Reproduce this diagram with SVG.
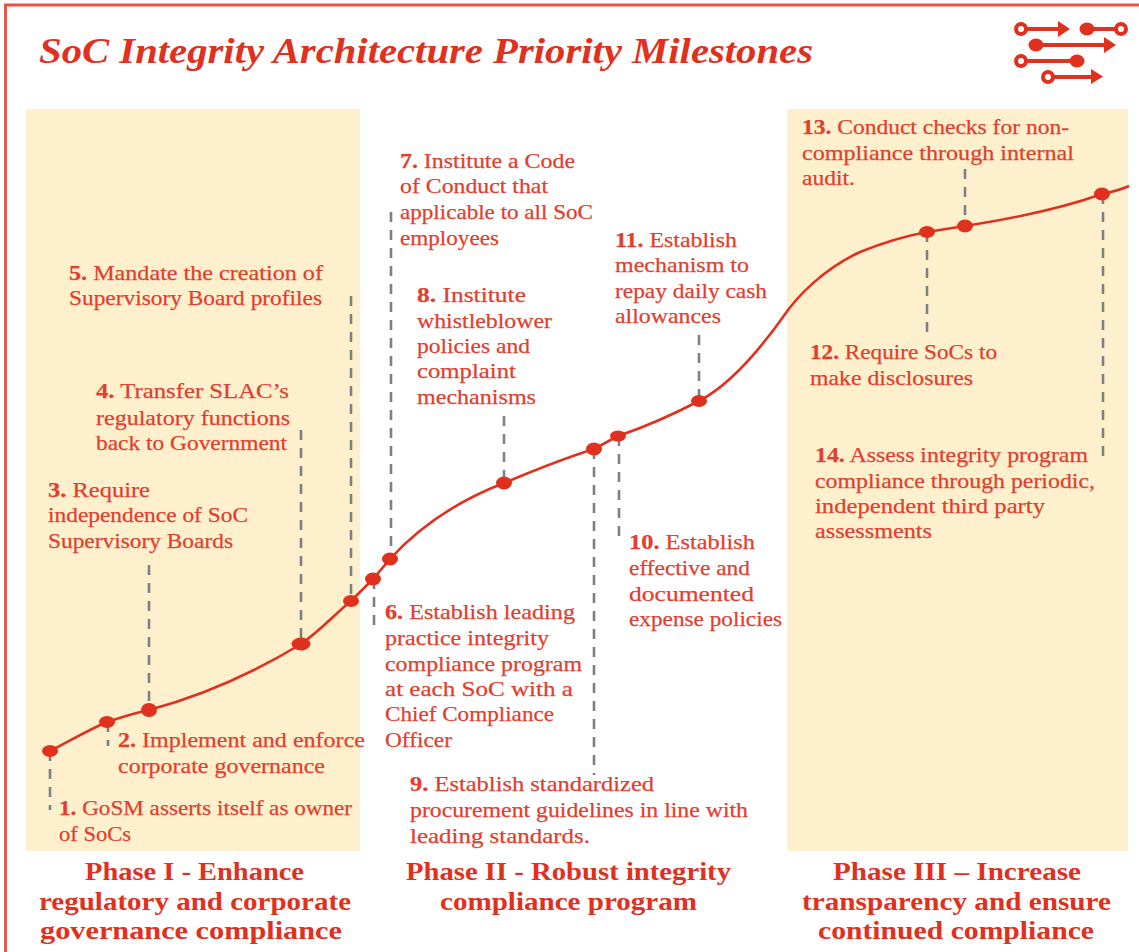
<svg xmlns="http://www.w3.org/2000/svg" width="1139" height="952" viewBox="0 0 1139 952">
<style>
text{font-family:"Liberation Serif",serif;font-size:21.5px;fill:#e0402f;stroke:#e0402f;stroke-width:.25px}
text tspan.n{font-weight:bold}
.ph{font-size:25.5px;font-weight:bold;stroke:none;fill:#e0301e}
.title{font-size:35px;font-weight:bold;font-style:italic;stroke:none;fill:#e0301e}
.lead{stroke:#7d8085;stroke-width:2.600;stroke-dasharray:10 8;fill:none}
.curve{stroke:#e0301e;stroke-width:2.600;fill:none}
.dot{fill:#e0301e}
.band{fill:#feefcd}
.ic{stroke:#e0301e;stroke-width:4;fill:none}
.icf{fill:#e0301e}
.ring{fill:#fff;stroke:#e0301e;stroke-width:4}
</style>
<g id="frame"><path d="M1139 5H5.500V952" fill="none" stroke="#e8503f" stroke-width="2.800"/></g>
<g id="bands">
<rect class="band" x="26" y="109" width="334" height="742"/>
<rect class="band" x="787" y="109" width="341" height="742"/>
</g>
<g id="title"><text class="title" x="39" y="63" textLength="774" lengthAdjust="spacingAndGlyphs">SoC Integrity Architecture Priority Milestones</text></g>
<g id="icon">
<path class="ic" d="M1021 29H1062M1088 29H1121M1036 45H1108M1021 61H1077M1048 77H1095"/>
<path class="icf" d="M1058 21L1070 29L1058 37ZM1104 37L1116 45L1104 53ZM1091 69L1103 76.500L1091 84Z"/>
<ellipse class="icf" cx="1087" cy="29" rx="7.500" ry="6.500"/><ellipse class="icf" cx="1036" cy="45" rx="7.500" ry="6.500"/><ellipse class="icf" cx="1077" cy="61" rx="7.500" ry="6.500"/>
<circle class="ring" cx="1021" cy="29" r="5"/><circle class="ring" cx="1121" cy="29" r="5"/><circle class="ring" cx="1021" cy="61" r="5"/><circle class="ring" cx="1048" cy="77" r="5"/>
</g>
<g id="connectors">
<path class="curve" d="M50 751C70 741 88 730 107 722C122 717 135 713 149 710C205 695 255 672 301 644C320 631 335 614 351 601L373 579L390 559C420 526 460 500 504 483C535 470 565 458 594 449L618 436C645 427 672 415 699 401C730 385 758 352 783 317C797 296 825 268 860 252C885 242 905 236 927 232L965 226C1010 219 1060 209 1102 194C1112 192 1120 190 1129 186"/>
<path class="lead" d="M50 751V810M108 722V746M149 565V710M301 430V644M351 296V601M374 579V628M391 212V559M504 416V483M594 449V775M619 436V543M699 335V401M927 232V339M965 169V226M1103 194V462"/>
<g class="dot">
<ellipse cx="50" cy="751" rx="8" ry="6"/><ellipse cx="107" cy="722" rx="8" ry="6"/><ellipse cx="149" cy="710" rx="8" ry="7"/><ellipse cx="301" cy="644" rx="9.500" ry="6.500"/><ellipse cx="351" cy="601" rx="8" ry="6"/><ellipse cx="373" cy="579" rx="8" ry="6.500"/><ellipse cx="390" cy="559" rx="8" ry="6.500"/><ellipse cx="504" cy="483" rx="8" ry="6.500"/><ellipse cx="594" cy="449" rx="8" ry="6.500"/><ellipse cx="618" cy="436" rx="8" ry="5.500"/><ellipse cx="699" cy="401" rx="8" ry="6"/><ellipse cx="927" cy="232" rx="8" ry="6"/><ellipse cx="965" cy="226" rx="8" ry="6.500"/><ellipse cx="1102" cy="194" rx="8" ry="6.500"/>
</g>
</g>
<g id="m1"><text x="59" y="815" textLength="293" lengthAdjust="spacingAndGlyphs"><tspan class="n">1.</tspan> GoSM asserts itself as owner</text><text x="59" y="841" textLength="72" lengthAdjust="spacingAndGlyphs">of SoCs</text></g>
<g id="m2"><text x="118" y="747" textLength="247" lengthAdjust="spacingAndGlyphs"><tspan class="n">2.</tspan> Implement and enforce</text><text x="118" y="773" textLength="207" lengthAdjust="spacingAndGlyphs">corporate governance</text></g>
<g id="m3"><text x="48" y="497" textLength="102" lengthAdjust="spacingAndGlyphs"><tspan class="n">3.</tspan> Require</text><text x="48" y="522" textLength="200" lengthAdjust="spacingAndGlyphs">independence of SoC</text><text x="48" y="548" textLength="185" lengthAdjust="spacingAndGlyphs">Supervisory Boards</text></g>
<g id="m4"><text x="96" y="398" textLength="193" lengthAdjust="spacingAndGlyphs"><tspan class="n">4.</tspan> Transfer SLAC’s</text><text x="96" y="425" textLength="194" lengthAdjust="spacingAndGlyphs">regulatory functions</text><text x="96" y="450" textLength="191" lengthAdjust="spacingAndGlyphs">back to Government</text></g>
<g id="m5"><text x="69" y="280" textLength="254" lengthAdjust="spacingAndGlyphs"><tspan class="n">5.</tspan> Mandate the creation of</text><text x="69" y="305" textLength="253" lengthAdjust="spacingAndGlyphs">Supervisory Board profiles</text></g>
<g id="m6"><text x="385" y="619" textLength="190" lengthAdjust="spacingAndGlyphs"><tspan class="n">6.</tspan> Establish leading</text><text x="385" y="645" textLength="164" lengthAdjust="spacingAndGlyphs">practice integrity</text><text x="385" y="671" textLength="197" lengthAdjust="spacingAndGlyphs">compliance program</text><text x="385" y="696" textLength="188" lengthAdjust="spacingAndGlyphs">at each SoC with a</text><text x="385" y="721" textLength="169" lengthAdjust="spacingAndGlyphs">Chief Compliance</text><text x="385" y="747" textLength="67" lengthAdjust="spacingAndGlyphs">Officer</text></g>
<g id="m7"><text x="400" y="168" textLength="175" lengthAdjust="spacingAndGlyphs"><tspan class="n">7.</tspan> Institute a Code</text><text x="400" y="193" textLength="148" lengthAdjust="spacingAndGlyphs">of Conduct that</text><text x="400" y="219" textLength="193" lengthAdjust="spacingAndGlyphs">applicable to all SoC</text><text x="400" y="245" textLength="99" lengthAdjust="spacingAndGlyphs">employees</text></g>
<g id="m8"><text x="417" y="302" textLength="109" lengthAdjust="spacingAndGlyphs"><tspan class="n">8.</tspan> Institute</text><text x="417" y="328" textLength="135" lengthAdjust="spacingAndGlyphs">whistleblower</text><text x="417" y="353" textLength="113" lengthAdjust="spacingAndGlyphs">policies and</text><text x="417" y="378" textLength="99" lengthAdjust="spacingAndGlyphs">complaint</text><text x="417" y="404" textLength="119" lengthAdjust="spacingAndGlyphs">mechanisms</text></g>
<g id="m9"><text x="410" y="791" textLength="244" lengthAdjust="spacingAndGlyphs"><tspan class="n">9.</tspan> Establish standardized</text><text x="410" y="817" textLength="338" lengthAdjust="spacingAndGlyphs">procurement guidelines in line with</text><text x="410" y="843" textLength="180" lengthAdjust="spacingAndGlyphs">leading standards.</text></g>
<g id="m10"><text x="629" y="549" textLength="126" lengthAdjust="spacingAndGlyphs"><tspan class="n">10.</tspan> Establish</text><text x="629" y="575" textLength="121" lengthAdjust="spacingAndGlyphs">effective and</text><text x="629" y="601" textLength="125" lengthAdjust="spacingAndGlyphs">documented</text><text x="629" y="626" textLength="153" lengthAdjust="spacingAndGlyphs">expense policies</text></g>
<g id="m11"><text x="615" y="247" textLength="122" lengthAdjust="spacingAndGlyphs"><tspan class="n">11.</tspan> Establish</text><text x="615" y="272" textLength="134" lengthAdjust="spacingAndGlyphs">mechanism to</text><text x="615" y="298" textLength="152" lengthAdjust="spacingAndGlyphs">repay daily cash</text><text x="615" y="323" textLength="106" lengthAdjust="spacingAndGlyphs">allowances</text></g>
<g id="m12"><text x="810" y="359" textLength="187" lengthAdjust="spacingAndGlyphs"><tspan class="n">12.</tspan> Require SoCs to</text><text x="810" y="385" textLength="163" lengthAdjust="spacingAndGlyphs">make disclosures</text></g>
<g id="m13"><text x="802" y="134" textLength="267" lengthAdjust="spacingAndGlyphs"><tspan class="n">13.</tspan> Conduct checks for non-</text><text x="802" y="160" textLength="272" lengthAdjust="spacingAndGlyphs">compliance through internal</text><text x="802" y="185" textLength="53" lengthAdjust="spacingAndGlyphs">audit.</text></g>
<g id="m14"><text x="815" y="462" textLength="273" lengthAdjust="spacingAndGlyphs"><tspan class="n">14.</tspan> Assess integrity program</text><text x="815" y="488" textLength="280" lengthAdjust="spacingAndGlyphs">compliance through periodic,</text><text x="815" y="513" textLength="230" lengthAdjust="spacingAndGlyphs">independent third party</text><text x="815" y="538" textLength="117" lengthAdjust="spacingAndGlyphs">assessments</text></g>
<g id="phase1"><text class="ph" x="85" y="880" textLength="219" lengthAdjust="spacingAndGlyphs">Phase I - Enhance</text><text class="ph" x="39" y="910" textLength="312" lengthAdjust="spacingAndGlyphs">regulatory and corporate</text><text class="ph" x="40" y="939" textLength="302" lengthAdjust="spacingAndGlyphs">governance compliance</text></g>
<g id="phase2"><text class="ph" x="406" y="880" textLength="325" lengthAdjust="spacingAndGlyphs">Phase II - Robust integrity</text><text class="ph" x="440" y="910" textLength="257" lengthAdjust="spacingAndGlyphs">compliance program</text></g>
<g id="phase3"><text class="ph" x="833" y="880" textLength="248" lengthAdjust="spacingAndGlyphs">Phase III – Increase</text><text class="ph" x="802" y="910" textLength="309" lengthAdjust="spacingAndGlyphs">transparency and ensure</text><text class="ph" x="818" y="939" textLength="276" lengthAdjust="spacingAndGlyphs">continued compliance</text></g>
</svg>
